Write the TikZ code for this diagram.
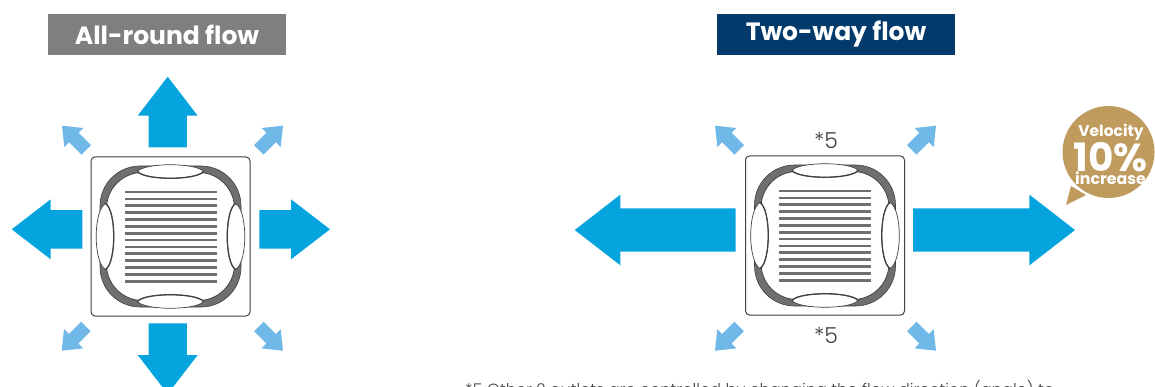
\documentclass[tikz,border=0pt]{standalone}
\usepackage{xcolor}
\usepackage{fontspec}
\setmainfont{Poppins}
\newfontfamily\LightFont[UprightFont=* Light]{Poppins}
\usetikzlibrary{
  positioning
}
\definecolor{FlowBlue}{HTML}{05A4DE}
\definecolor{FlowSky}{HTML}{6FB8E8}
\definecolor{FlowGrey}{HTML}{7F7F80}
\definecolor{FlowNavy}{HTML}{013A6B}
\definecolor{FlowTan}{HTML}{BF9B5E}
\definecolor{UnitDark}{HTML}{434041}
\definecolor{UnitGrey}{HTML}{6F6F71}
\tikzset{
  titlebox/.style={fill=#1,text=white,minimum width=238pt,minimum height=41pt,inner sep=0pt,
    font=\fontsize{25}{25}\selectfont\bfseries},
  starnote/.style={text=UnitDark,inner sep=0pt,font=\LightFont\fontsize{22}{22}\selectfont},
  bubbletext/.style={inner sep=0pt,text=white,font=\fontsize{#1}{#1}\selectfont\bfseries},
  pics/flowarrow/.style n args={5}{code={
    \fill[#5] (0,0) -- (-#2,#3) -- (-#2,#4) -- (-#1,#4) -- (-#1,-#4) -- (-#2,-#4) -- (-#2,-#3) -- cycle;
  }},
  pics/outlet/.style 2 args={code={
    \path[fill=white,draw=UnitDark,line width=.7pt] (-33,-65) .. controls (-26,#1) and (26,#1) .. (33,-65)
      .. controls (26,#2) and (-26,#2) .. (-33,-65) -- cycle;
    \draw[UnitDark,line width=1.3pt] (33,-65) .. controls (26,#2) and (-26,#2) .. (-33,-65);
  }},
  pics/cassette/.style={code={
    \draw[UnitDark,line width=1pt,fill=white,rounded corners=4pt] (-79.5,-79.5) rectangle (79.5,79.5);
    \draw[UnitDark,line width=.6pt,fill=UnitGrey,rounded corners=40pt] (-70.5,-70.5) rectangle (70.5,70.5);
    \draw[UnitDark,line width=.8pt,fill=white,rounded corners=36pt] (-64,-64) rectangle (64,64);
    \foreach \row in {0,...,13}{
      \fill[UnitGrey] (-46,-45.8+6.85*\row) rectangle (46,-43+6.85*\row);
    }
    \foreach \turn in {0,180}{
      \pic[rotate=\turn] {outlet={-74}{-56}};
    }
    \foreach \turn in {90,270}{
      \pic[rotate=\turn] {outlet={-77.4}{-54}};
    }
  }}
}
\begin{document}
\begin{tikzpicture}[x=1pt,y=-1pt]
    \useasboundingbox (0,0) rectangle (1155,387);
    \clip (0,0) rectangle (1155,387);
    \node[titlebox=FlowGrey] (allround) at (167,34.5) {All-round flow};
    \node[titlebox=FlowNavy] (twoway) at (836,34.5) {\raisebox{-2pt}{Two-way flow}};

    \pic at (170.5,236.5) {cassette};
    \pic at (825,235.5) {cassette};

    \pic[rotate=90] at (167.7,76.7) {flowarrow={70.6}{39}{30}{19.2}{FlowBlue}};
    \pic[rotate=-90] at (167.7,394) {flowarrow={70.6}{39}{30}{19.2}{FlowBlue}};
    \pic[rotate=180] at (11.7,229.3) {flowarrow={70.6}{39}{30}{19.2}{FlowBlue}};
    \pic at (330,229.3) {flowarrow={70.6}{39}{30}{19.2}{FlowBlue}};
    \pic[rotate=180] at (574.7,230) {flowarrow={161}{45.6}{35.3}{21.7}{FlowBlue}};
    \pic at (1075,230) {flowarrow={162}{45.6}{35.3}{21.7}{FlowBlue}};

    \foreach \tipx/\tipy/\turn in {62/125.7/135,283/125.7/45,61.7/350.7/225,283/350.7/-45,
      715/125.7/135,936/125.7/45,715/350.7/225,936/350.7/-45}{
      \pic[rotate=\turn] at (\tipx,\tipy) {flowarrow={34.2}{16.8}{13.5}{6.7}{FlowSky}};
    }

    \node[starnote] (starup) at (826,140) {*5};
    \node[starnote] (stardown) at (826,335) {*5};

    \fill[FlowTan] (1071,186) -- (1066,205) -- (1086,195) -- cycle;
    \fill[FlowTan] (1108.5,152) circle[radius=46pt];
    \node[bubbletext=15.5] (velocity) at (1111,132) {Velocity};
    \node[bubbletext=39] (percent) at (1110.5,157) {10\%};
    \node[bubbletext=15.8] (increase) at (1110.5,178.5) {increase};

    \node[anchor=base west,inner sep=0pt,text=UnitDark,font=\LightFont\fontsize{16.2}{16.2}\selectfont] (footnote) at (465,395.5)
      {*5 Other 2 outlets are controlled by changing the flow direction (angle) to};
  \end{tikzpicture}
\end{document}
